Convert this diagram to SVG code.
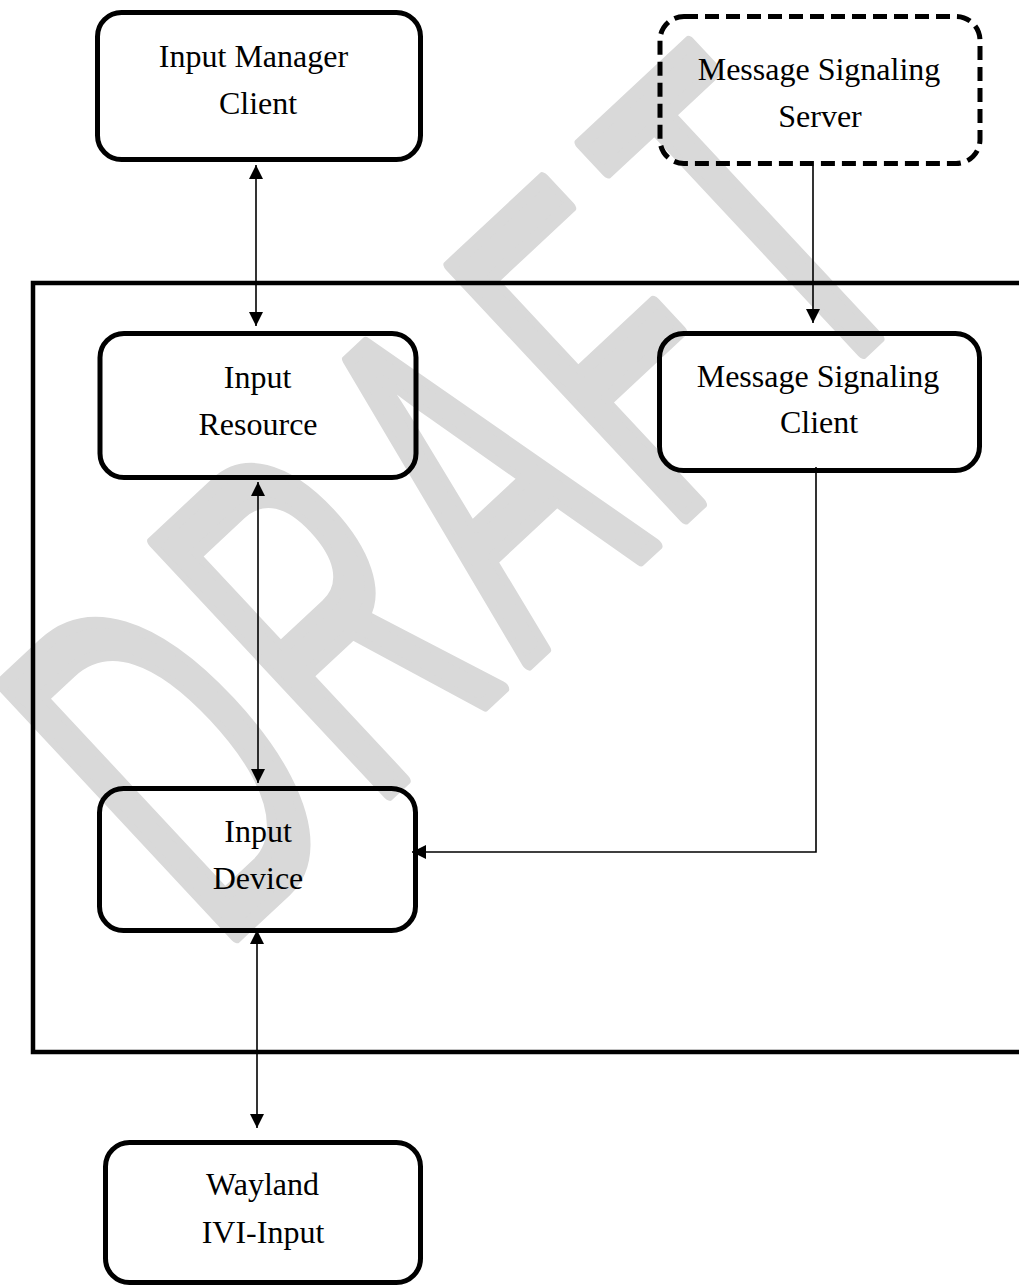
<svg xmlns="http://www.w3.org/2000/svg" width="1019" height="1287" viewBox="0 0 1019 1287">
<style>
.box{fill:none;stroke:#000;stroke-width:5}
.dash{stroke-dasharray:14 7}
.lbl{font-family:"Liberation Serif","Times New Roman",serif;font-size:32px;fill:#000;text-anchor:middle}
.con{fill:none;stroke:#000;stroke-width:1.6}
.wm{font-family:"Liberation Sans",Arial,sans-serif;font-size:500px;fill:#d9d9d9;stroke:#d9d9d9;stroke-width:11px;stroke-linejoin:round;vector-effect:non-scaling-stroke}
</style>
<defs>
<marker id="ah" viewBox="0 0 14 14" refX="14" refY="7" markerWidth="14" markerHeight="14" markerUnits="userSpaceOnUse" orient="auto-start-reverse">
<path d="M0,0 L14,7 L0,14 z" fill="#000"/>
</marker>
</defs>
<rect width="1019" height="1287" fill="#fff"/>
<g id="watermark">
<text class="wm" transform="translate(234,938) rotate(-43) scale(0.538,1)" x="-40 348 743 1101 1464" y="0">DRAFT</text>
</g>
<g id="container">
<rect x="33" y="283" width="1010" height="769" fill="none" stroke="#000" stroke-width="4.5"/>
</g>
<g id="node-input-manager-client">
<rect class="box" x="97.5" y="12.5" width="323" height="147" rx="24"/>
<text class="lbl" x="253.5" y="67">Input Manager</text>
<text class="lbl" x="258" y="114">Client</text>
</g>
<g id="node-message-signaling-server">
<rect class="box dash" x="660" y="16.5" width="320" height="147" rx="24"/>
<text class="lbl" x="819" y="80">Message Signaling</text>
<text class="lbl" x="820" y="127">Server</text>
</g>
<g id="node-input-resource">
<rect class="box" x="100" y="333.5" width="316" height="144" rx="24"/>
<text class="lbl" x="257.5" y="388">Input</text>
<text class="lbl" x="258" y="435">Resource</text>
</g>
<g id="node-message-signaling-client">
<rect class="box" x="659.5" y="333.5" width="320" height="137" rx="24"/>
<text class="lbl" x="818" y="387">Message Signaling</text>
<text class="lbl" x="819" y="433">Client</text>
</g>
<g id="node-input-device">
<rect class="box" x="99.5" y="788.5" width="316" height="142" rx="24"/>
<text class="lbl" x="258" y="842">Input</text>
<text class="lbl" x="258" y="889">Device</text>
</g>
<g id="node-wayland-ivi-input">
<rect class="box" x="105.5" y="1142.5" width="315" height="140" rx="24"/>
<text class="lbl" x="262.5" y="1195">Wayland</text>
<text class="lbl" x="263" y="1243">IVI-Input</text>
</g>
<g id="connectors">
<line class="con" x1="256" y1="165" x2="256" y2="326" marker-start="url(#ah)" marker-end="url(#ah)"/>
<line class="con" x1="258" y1="482" x2="258" y2="783" marker-start="url(#ah)" marker-end="url(#ah)"/>
<line class="con" x1="257" y1="930" x2="257" y2="1128" marker-start="url(#ah)" marker-end="url(#ah)"/>
<line class="con" x1="813" y1="166" x2="813" y2="323" marker-end="url(#ah)"/>
<path class="con" d="M816,467 V852 H412" marker-end="url(#ah)"/>
</g>
</svg>
